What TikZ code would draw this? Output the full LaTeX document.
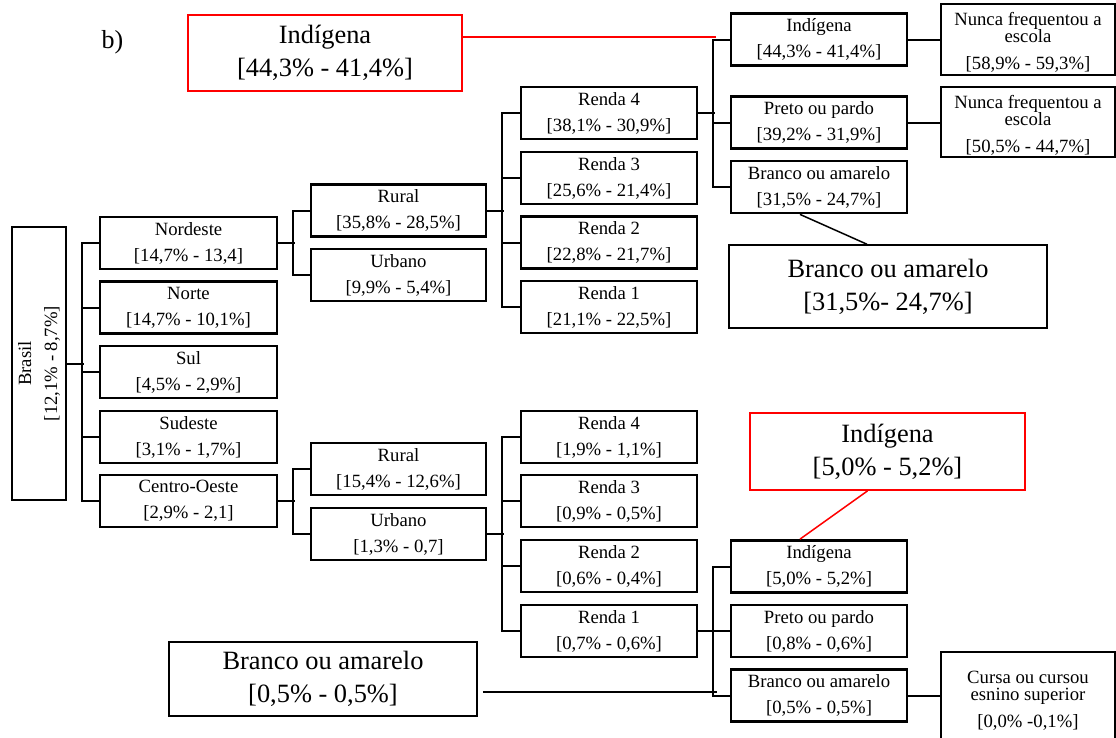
\documentclass[tikz,border=0pt]{standalone}
\usepackage{fontspec}
\setmainfont{Liberation Serif}
\usetikzlibrary{calc}
\newcommand\lbl[2]{#1\\{}[#2]}
\tikzset{
  box/.style={draw, line width=2.8pt, inner sep=0pt, minimum width=176pt,
    minimum height=52pt, align=center, font=\fontsize{18.7}{26}\selectfont},
  endbox/.style={box, minimum width=174pt},
  endtext/.style={align=center, font=\fontsize{18.7}{26}\selectfont, yshift=-3pt},
  conn/.style={line width=2pt},
  callout/.style={draw, line width=1.5pt, inner sep=0pt, align=center,
    font=\fontsize{26.4}{33}\selectfont},
  redcallout/.style={callout, draw=red, line width=1.8pt},
  redline/.style={draw=red, line width=1.5pt},
  blackline/.style={line width=1.5pt}
}
\begin{document}
\begin{tikzpicture}[x=1pt,y=-1pt]
\useasboundingbox (0,0) rectangle (1116,737);
\clip (0,0) rectangle (1116,737);

\node[anchor=base west, font=\fontsize{26}{30}\selectfont] (lab) at (98,48) {b)};

% root
\node[box, rotate=90, minimum width=273pt, minimum height=54pt] (brasil) at (39,363.5)
  {\lbl{Brasil}{12,1\% - 8,7\%}};

% regions
\node[box, minimum width=177pt] (nordeste) at (188.5,243)   {\lbl{Nordeste}{14,7\% - 13,4}};
\node[box, minimum width=177pt] (norte)    at (188.5,307.5) {\lbl{Norte}{14,7\% - 10,1\%}};
\node[box, minimum width=177pt] (sul)      at (188.5,372)   {\lbl{Sul}{4,5\% - 2,9\%}};
\node[box, minimum width=177pt] (sudeste)  at (188.5,437)   {\lbl{Sudeste}{3,1\% - 1,7\%}};
\node[box, minimum width=177pt] (centro)   at (188.5,501)   {\lbl{Centro-Oeste}{2,9\% - 2,1}};

% rural / urbano
\node[box, minimum width=175pt] (rural1)  at (398.5,210.5) {\lbl{Rural}{35,8\% - 28,5\%}};
\node[box, minimum width=175pt] (urbano1) at (398.5,275)   {\lbl{Urbano}{9,9\% - 5,4\%}};
\node[box, minimum width=175pt] (rural2)  at (398.5,469)   {\lbl{Rural}{15,4\% - 12,6\%}};
\node[box, minimum width=175pt] (urbano2) at (398.5,534)   {\lbl{Urbano}{1,3\% - 0,7}};

% income groups
\node[box] (ra4) at (609,113)   {\lbl{Renda 4}{38,1\% - 30,9\%}};
\node[box] (ra3) at (609,178)   {\lbl{Renda 3}{25,6\% - 21,4\%}};
\node[box] (ra2) at (609,242.5) {\lbl{Renda 2}{22,8\% - 21,7\%}};
\node[box] (ra1) at (609,307)   {\lbl{Renda 1}{21,1\% - 22,5\%}};
\node[box] (rb4) at (609,437)   {\lbl{Renda 4}{1,9\% - 1,1\%}};
\node[box] (rb3) at (609,501)   {\lbl{Renda 3}{0,9\% - 0,5\%}};
\node[box] (rb2) at (609,566)   {\lbl{Renda 2}{0,6\% - 0,4\%}};
\node[box] (rb1) at (609,631)   {\lbl{Renda 1}{0,7\% - 0,6\%}};

% colour / race
\node[box] (ind1)    at (819,39.5)  {\lbl{Indígena}{44,3\% - 41,4\%}};
\node[box] (preto1)  at (819,122.5) {\lbl{Preto ou pardo}{39,2\% - 31,9\%}};
\node[box] (branco1) at (819,187)   {\lbl{Branco ou amarelo}{31,5\% - 24,7\%}};
\node[box] (ind2)    at (819,566.5) {\lbl{Indígena}{5,0\% - 5,2\%}};
\node[box] (preto2)  at (819,631)   {\lbl{Preto ou pardo}{0,8\% - 0,6\%}};
\node[box] (branco2) at (819,695.5) {\lbl{Branco ou amarelo}{0,5\% - 0,5\%}};

% schooling
\node[endbox, minimum height=71pt,
  label={[endtext]center:Nunca frequentou a\\[-9pt]escola\\[1pt][58,9\% - 59,3\%]}]
  (nunca1) at (1028,39.5) {};
\node[endbox, minimum height=70pt,
  label={[endtext]center:Nunca frequentou a\\[-9pt]escola\\[1pt][50,5\% - 44,7\%]}]
  (nunca2) at (1028,122) {};
\node[endbox, minimum height=88pt,
  label={[endtext, yshift=-2pt]center:Cursa ou cursou\\[-9pt]esnino superior\\[1pt][0,0\% -0,1\%]}]
  (cursa) at (1028,696) {};

% tree connectors
\draw[conn] (brasil.south) -- ++(17,0);
\draw[conn] (nordeste.west) -- ++(-17,0) |- (centro.west);
\foreach \n in {norte,sul,sudeste} \draw[conn] (\n.west) -- ++(-17,0);

\draw[conn] (nordeste.east) -- ++(17,0);
\draw[conn] (rural1.west) -- ++(-17,0) |- (urbano1.west);
\draw[conn] (centro.east) -- ++(17,0);
\draw[conn] (rural2.west) -- ++(-17,0) |- (urbano2.west);

\draw[conn] (rural1.east) -- ++(17,0);
\draw[conn] (ra4.west) -- ++(-18,0) |- (ra1.west);
\foreach \n in {ra3,ra2} \draw[conn] (\n.west) -- ++(-18,0);
\draw[conn] (urbano2.east) -- ++(17,0);
\draw[conn] (rb4.west) -- ++(-18,0) |- (rb1.west);
\foreach \n in {rb3,rb2} \draw[conn] (\n.west) -- ++(-18,0);

\draw[conn] (ra4.east) -- ++(17,0);
\draw[conn] (ind1.west) -- ++(-17,0) |- (branco1.west);
\draw[conn] (preto1.west) -- ++(-17,0);
\draw[conn] (rb1.east) -- ++(17,0);
\draw[conn] (ind2.west) -- ++(-17,0) |- (branco2.west);
\draw[conn] (preto2.west) -- ++(-17,0);

\draw[conn] (ind1.east) -- (ind1.east -| nunca1.west);
\draw[conn] (preto1.east) -- (preto1.east -| nunca2.west);
\draw[conn] (branco2.east) -- (branco2.east -| cursa.west);

% highlighted callouts
\node[redcallout, minimum width=274pt, minimum height=76pt] (redtop) at (325,53)
  {\lbl{Indígena}{44,3\% - 41,4\%}};
\node[callout, minimum width=318pt, minimum height=83pt] (blacktop) at (888,286.5)
  {\lbl{Branco ou amarelo}{31,5\%- 24,7\%}};
\node[redcallout, minimum width=275pt, minimum height=77pt] (redbot) at (887.5,451.5)
  {\lbl{Indígena}{5,0\% - 5,2\%}};
\node[callout, minimum width=308pt, minimum height=74pt] (blackbot) at (323,679)
  {\lbl{Branco ou amarelo}{0,5\% - 0,5\%}};

\draw[redline] (redtop.east |- 0,37) -- ($(ind1.west |- 0,37)+(-14,0)$);
\draw[blackline] ($(branco1.south)+(-19,0)$) -- ($(blacktop.north)+(-21,0)$);
\draw[redline] ($(redbot.south)+(-20,0)$) -- ($(ind2.north)+(-19,0)$);
\draw[blackline] ($(blackbot.east)+(5,13)$) -- ($(branco2.west |- 0,692)+(-13,0)$);
\end{tikzpicture}
\end{document}
